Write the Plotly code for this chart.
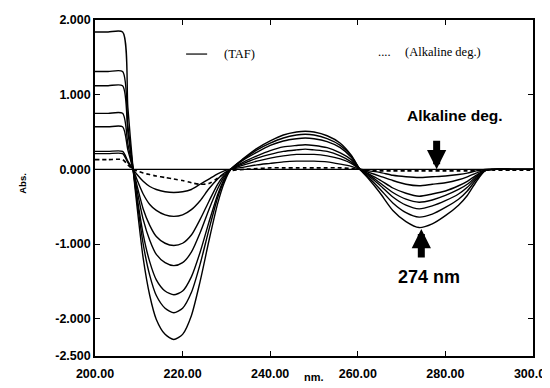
import plotly.graph_objects as go

# Wavelength grid (nm)
wavelength = [200, 203, 206.3, 207.5, 208.7, 209.6, 211, 212.5, 214, 216,
              218, 220, 222, 224, 226, 228, 229.5, 231, 234, 237,
              240, 243, 246, 248, 250, 253, 256, 258.5, 260.5, 262.5,
              265, 268, 271, 274, 277, 280, 283, 285, 287, 289,
              291, 295, 300]

# TAF derivative spectra (solid), increasing concentration
taf_1 = [0.21, 0.21, 0.21, 0.09, 0,
         -0.07, -0.16, -0.23, -0.27, -0.30, -0.31, -0.30, -0.27, -0.20, -0.13, -0.06, -0.02, 0,
         0.03, 0.06, 0.08, 0.10, 0.11, 0.11, 0.11, 0.10, 0.07, 0.04, 0,
         -0.02, -0.04, -0.08, -0.10, -0.11, -0.10, -0.09, -0.07, -0.05, -0.02, 0.00, 0, 0, 0]
taf_2 = [0.24, 0.24, 0.24, 0.11, 0,
         -0.14, -0.33, -0.47, -0.55, -0.61, -0.63, -0.61, -0.54, -0.42, -0.26, -0.13, -0.05, 0,
         0.06, 0.11, 0.15, 0.18, 0.20, 0.20, 0.20, 0.18, 0.14, 0.08, 0,
         -0.04, -0.09, -0.15, -0.20, -0.22, -0.20, -0.18, -0.14, -0.10, -0.05, -0.01, 0, 0, 0]
taf_3 = [0.57, 0.57, 0.57, 0.26, 0,
         -0.22, -0.53, -0.75, -0.90, -0.99, -1.02, -0.99, -0.88, -0.67, -0.43, -0.20, -0.08, 0,
         0.08, 0.15, 0.20, 0.24, 0.26, 0.27, 0.26, 0.24, 0.18, 0.10, 0,
         -0.06, -0.14, -0.25, -0.32, -0.36, -0.33, -0.29, -0.22, -0.16, -0.08, -0.01, 0, 0, 0]
taf_4 = [0.75, 0.75, 0.75, 0.34, 0,
         -0.28, -0.67, -0.95, -1.14, -1.25, -1.29, -1.25, -1.11, -0.85, -0.54, -0.26, -0.10, 0,
         0.10, 0.18, 0.25, 0.30, 0.32, 0.33, 0.32, 0.29, 0.22, 0.13, 0,
         -0.07, -0.18, -0.31, -0.40, -0.44, -0.41, -0.35, -0.27, -0.20, -0.10, -0.01, 0, 0, 0]
taf_5 = [1.12, 1.12, 1.12, 0.50, 0,
         -0.37, -0.87, -1.24, -1.48, -1.63, -1.68, -1.63, -1.44, -1.11, -0.71, -0.34, -0.13, 0,
         0.13, 0.23, 0.32, 0.38, 0.41, 0.42, 0.41, 0.37, 0.29, 0.16, 0,
         -0.09, -0.21, -0.37, -0.48, -0.53, -0.49, -0.42, -0.33, -0.24, -0.12, -0.02, 0, 0, 0]
taf_6 = [1.31, 1.31, 1.31, 0.59, 0,
         -0.42, -1.00, -1.42, -1.69, -1.86, -1.92, -1.86, -1.65, -1.27, -0.81, -0.38, -0.15, 0,
         0.14, 0.26, 0.35, 0.42, 0.46, 0.47, 0.46, 0.41, 0.32, 0.18, 0,
         -0.11, -0.26, -0.45, -0.58, -0.64, -0.60, -0.51, -0.40, -0.29, -0.14, -0.02, 0, 0, 0]
taf_7 = [1.84, 1.84, 1.84, 0.83, 0,
         -0.50, -1.19, -1.69, -2.01, -2.21, -2.28, -2.21, -1.96, -1.50, -0.96, -0.46, -0.18, 0,
         0.15, 0.28, 0.38, 0.46, 0.50, 0.51, 0.50, 0.45, 0.35, 0.19, 0,
         -0.13, -0.31, -0.55, -0.70, -0.78, -0.73, -0.62, -0.48, -0.35, -0.17, -0.02, 0, 0, 0]
taf_series = [taf_1, taf_2, taf_3, taf_4, taf_5, taf_6, taf_7]

# Alkaline degradation product (dashed)
alkaline = [0.13, 0.13, 0.13, 0.06, 0,
            -0.02, -0.05, -0.07, -0.09, -0.11, -0.13, -0.15, -0.18, -0.20, -0.19, -0.12, -0.06, -0.02,
            0.00, 0.01, 0.02, 0.02, 0.02, 0.02, 0.02, 0.02, 0.02, 0.01, 0,
            -0.01, -0.02, -0.02, -0.02, -0.02, -0.02, -0.02, -0.02, -0.02, -0.02, -0.01, -0.01, -0.01, -0.01]

# Blank baseline
blank = [0.0] * len(wavelength)

x_ticks = [200, 220, 240, 260, 280, 300]
x_ticktext = ["200.00", "220.00", "240.00", "260.00", "280.00", "300.00"]
y_ticks = [2, 1, 0, -1, -2, -2.5]
y_ticktext = ["2.000", "1.000", "0.000", "-1.000", "-2.000", "-2.500"]

fig = go.Figure()

fig.add_trace(go.Scatter(x=wavelength, y=blank, mode="lines",
                         line=dict(color="black", width=1.4), showlegend=False))
for s in taf_series:
    fig.add_trace(go.Scatter(x=wavelength, y=s, mode="lines",
                             line=dict(color="black", width=1.4, shape="spline", smoothing=0.7),
                             showlegend=False))
fig.add_trace(go.Scatter(x=wavelength, y=alkaline, mode="lines",
                         line=dict(color="black", width=1.6, dash="4px,3px", shape="spline", smoothing=0.7),
                         showlegend=False))

tickfont = dict(family="Liberation Sans, Arial", size=12.5, color="black", weight="bold")

fig.update_xaxes(range=[200, 300], tickvals=x_ticks, ticktext=x_ticktext, automargin=False,
                 showgrid=False, zeroline=False, showline=True, linecolor="black", linewidth=1.6,
                 mirror="ticks", ticks="inside", ticklen=5, tickcolor="black", tickwidth=1.4,
                 tickfont=tickfont, ticklabeloverflow="allow", ticklabelstandoff=5)
fig.update_yaxes(range=[-2.5, 2.0], tickvals=y_ticks, ticktext=y_ticktext, automargin=False,
                 showgrid=False, zeroline=False, showline=True, linecolor="black", linewidth=1.6,
                 mirror="ticks", ticks="inside", ticklen=5, tickcolor="black", tickwidth=1.4,
                 tickfont=tickfont, ticklabeloverflow="allow")

serif = dict(family="Liberation Serif, Times New Roman", size=12.5, color="black")
bold_big = dict(family="Liberation Sans, Arial", color="black", weight="bold")

fig.add_shape(type="line", x0=220.8, x1=225.6, y0=1.544, y1=1.544,
              line=dict(color="black", width=1.2))

annotations = [
    dict(x=232.9, y=1.544, text="(TAF)", showarrow=False, font=serif),
    dict(x=266.0, y=1.575, text="....", showarrow=False, font=serif),
    dict(x=279.4, y=1.575, text="(Alkaline deg.)", showarrow=False, font=serif),
    dict(x=282.2, y=0.727, text="Alkaline deg.", showarrow=False, font=dict(bold_big, size=15.5)),
    dict(x=276.3, y=-1.44, text="274 nm", showarrow=False, font=dict(bold_big, size=18)),
    dict(x=278.0, y=0.0, text="", showarrow=True, ax=0, ay=-30, axref="pixel", ayref="pixel",
         arrowhead=2, arrowsize=0.55, arrowwidth=7, arrowcolor="black", standoff=0),
    dict(x=274.5, y=-0.80, text="", showarrow=True, ax=0, ay=30, axref="pixel", ayref="pixel",
         arrowhead=2, arrowsize=0.55, arrowwidth=7, arrowcolor="black", standoff=0),
    dict(xref="paper", yref="paper", x=-0.182, y=0.515, text="Abs.", showarrow=False,
         textangle=-90, font=dict(family="Liberation Sans, Arial", size=9.5, color="black", weight="bold")),
    dict(xref="paper", yref="paper", x=0.5, y=-0.085, text="nm.", showarrow=False,
         font=dict(family="Liberation Sans, Arial", size=11, color="black", weight="bold")),
]
for a in annotations:
    fig.add_annotation(**a)

# The page body has an 8px margin; size the figure so the plot area lands where the reference has it
fig.update_layout(width=542, height=380, margin=dict(l=87, r=17, t=12, b=32, autoexpand=False),
                  paper_bgcolor="white", plot_bgcolor="white", showlegend=False)

fig.write_html("out.html")
